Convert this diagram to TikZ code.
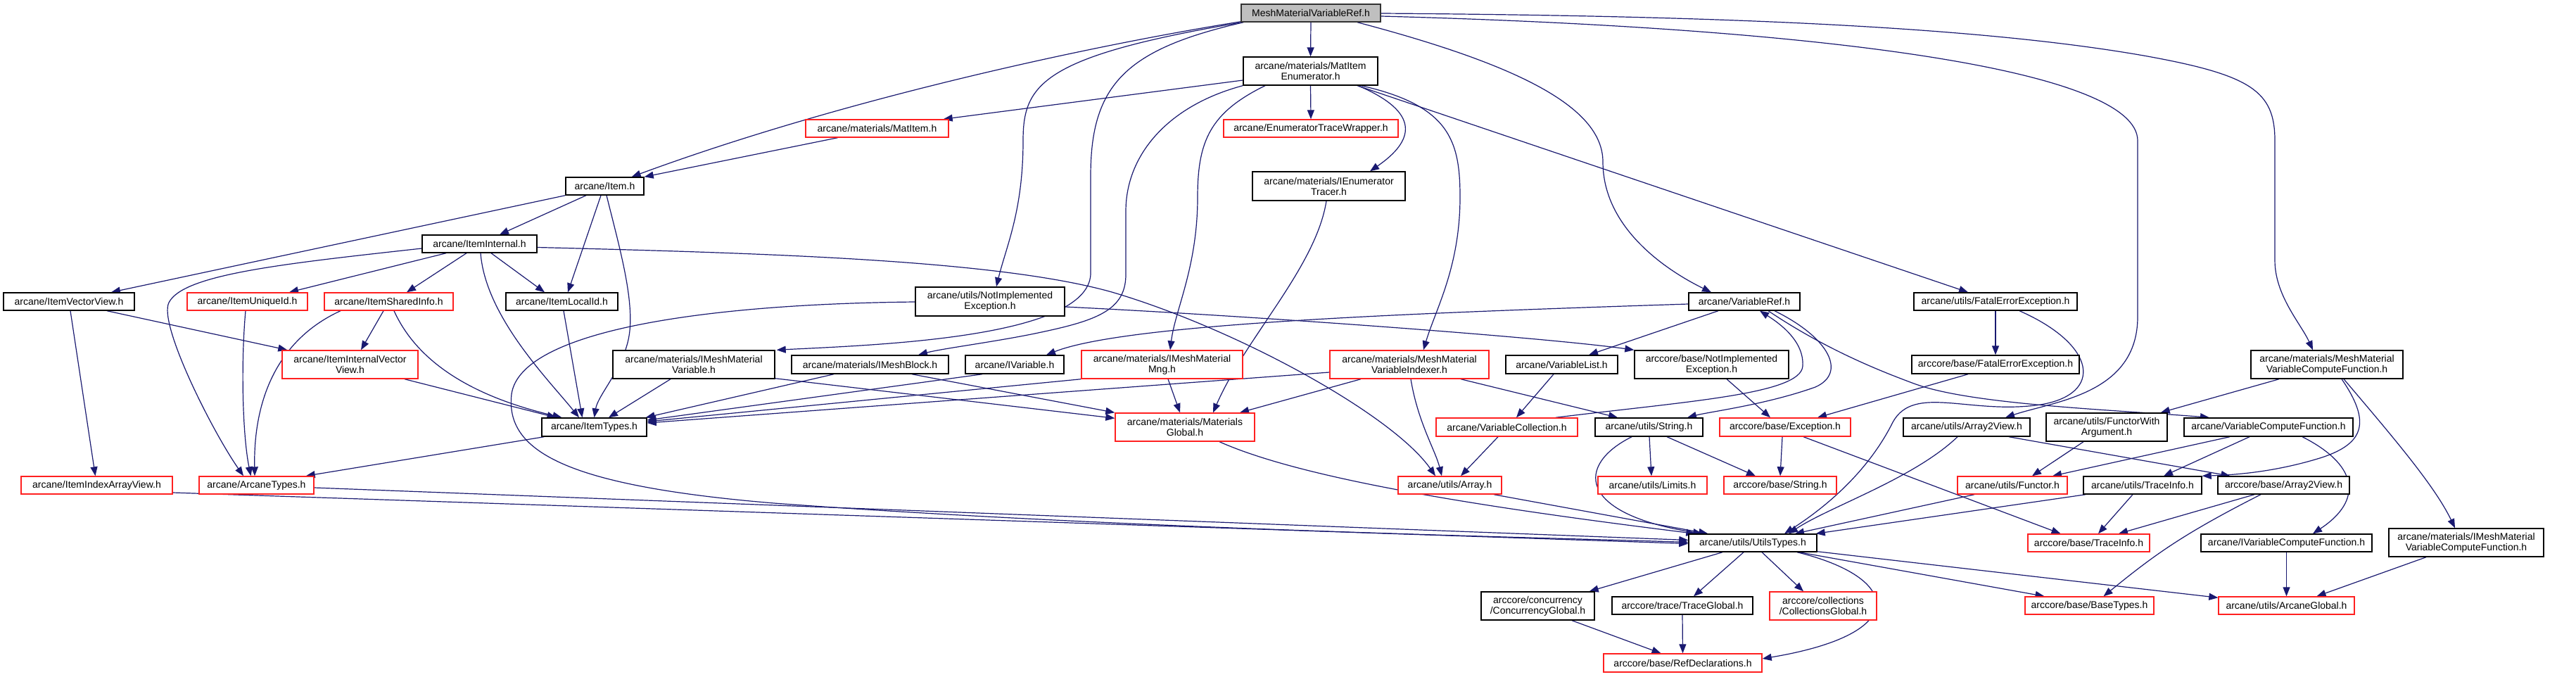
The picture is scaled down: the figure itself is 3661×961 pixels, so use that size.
\documentclass[tikz,border=0pt]{standalone}
\usepackage{fontspec}
\setmainfont{Liberation Sans}
\usetikzlibrary{arrows.meta,calc}
\definecolor{eblue}{HTML}{191970}
\definecolor{nred}{HTML}{FF2020}
\definecolor{rootfill}{HTML}{BFBFBF}
\pgfdeclarelayer{bg}
\pgfsetlayers{bg,main}
\newcommand\Nd[7]{\node[#6, minimum width={#4-#2}, minimum height={#5-#3}] (#1) at ({(#2+#4)/2},{(#3+#5)/2}) {#7};}
\begin{document}
\begin{tikzpicture}[x=1pt,y=-1pt,
  nb/.style={draw=black, line width=1.4pt, fill=white, inner sep=0pt, align=center, font=\fontsize{14}{15}\selectfont},
  rb/.style={nb, draw=nred},
  gb/.style={nb, fill=rootfill, draw=black!80},
  e/.style={draw=eblue, line width=1.2pt, -{Triangle[length=13pt,width=10pt]}}]
\begin{pgfonlayer}{bg}
\path[use as bounding box, fill=white] (0,0) rectangle (3661,961);
\end{pgfonlayer}
% nodes
\Nd{root}{1764}{6}{1962}{31}{gb}{MeshMaterialVariableRef.h}
\Nd{E}{1767}{81}{1958}{121}{nb}{arcane/materials/MatItem\\Enumerator.h}
\Nd{matitem}{1145}{170}{1348}{195}{rb}{arcane/materials/MatItem.h}
\Nd{etw}{1739}{170}{1987}{195}{rb}{arcane/EnumeratorTraceWrapper.h}
\Nd{ienum}{1780}{244}{1997}{285}{nb}{arcane/materials/IEnumerator\\Tracer.h}
\Nd{item}{804}{252}{915}{277}{nb}{arcane/Item.h}
\Nd{iinternal}{600}{334}{763}{359}{nb}{arcane/ItemInternal.h}
\Nd{ivv}{5}{416}{191}{441}{nb}{arcane/ItemVectorView.h}
\Nd{iuid}{266}{416}{437}{441}{rb}{arcane/ItemUniqueId.h}
\Nd{isi}{461}{416}{644}{441}{rb}{arcane/ItemSharedInfo.h}
\Nd{ilid}{719}{416}{878}{441}{nb}{arcane/ItemLocalId.h}
\Nd{iivv}{401}{498}{594}{538}{rb}{arcane/ItemInternalVector\\View.h}
\Nd{itypes}{770}{594}{919}{620}{nb}{arcane/ItemTypes.h}
\Nd{iiav}{30}{677}{245}{702}{rb}{arcane/ItemIndexArrayView.h}
\Nd{atypes}{283}{677}{446}{702}{rb}{arcane/ArcaneTypes.h}
\Nd{unie}{1301}{408}{1513}{449}{nb}{arcane/utils/NotImplemented\\Exception.h}
\Nd{immv}{871}{498}{1101}{538}{nb}{arcane/materials/IMeshMaterial\\Variable.h}
\Nd{imb}{1125}{505}{1348}{531}{nb}{arcane/materials/IMeshBlock.h}
\Nd{ivar}{1372}{505}{1512}{531}{nb}{arcane/IVariable.h}
\Nd{imm}{1537}{498}{1766}{538}{rb}{arcane/materials/IMeshMaterial\\Mng.h}
\Nd{mglob}{1585}{587}{1783}{627}{rb}{arcane/materials/Materials\\Global.h}
\Nd{mmvi}{1890}{498}{2116}{538}{rb}{arcane/materials/MeshMaterial\\VariableIndexer.h}
\Nd{vref}{2400}{416}{2558}{441}{nb}{arcane/VariableRef.h}
\Nd{vlist}{2140}{505}{2299}{531}{nb}{arcane/VariableList.h}
\Nd{cnie}{2323}{498}{2542}{538}{nb}{arccore/base/NotImplemented\\Exception.h}
\Nd{vcoll}{2041}{594}{2242}{620}{rb}{arcane/VariableCollection.h}
\Nd{ustr}{2267}{594}{2420}{620}{nb}{arcane/utils/String.h}
\Nd{cexc}{2444}{594}{2630}{620}{rb}{arccore/base/Exception.h}
\Nd{ufee}{2720}{416}{2952}{441}{nb}{arcane/utils/FatalErrorException.h}
\Nd{cfee}{2717}{505}{2955}{531}{nb}{arccore/base/FatalErrorException.h}
\Nd{mmvcf}{3199}{498}{3415}{538}{nb}{arcane/materials/MeshMaterial\\VariableComputeFunction.h}
\Nd{ua2v}{2705}{594}{2885}{620}{nb}{arcane/utils/Array2View.h}
\Nd{fwa}{2908}{587}{3080}{627}{nb}{arcane/utils/FunctorWith\\Argument.h}
\Nd{vcf}{3104}{594}{3344}{620}{nb}{arcane/VariableComputeFunction.h}
\Nd{uarr}{1987}{677}{2134}{702}{rb}{arcane/utils/Array.h}
\Nd{ulim}{2271}{677}{2426}{702}{rb}{arcane/utils/Limits.h}
\Nd{cstr}{2450}{677}{2610}{702}{rb}{arccore/base/String.h}
\Nd{utypes}{2400}{759}{2582}{784}{nb}{arcane/utils/UtilsTypes.h}
\Nd{conc}{2105}{841}{2266}{881}{nb}{arccore/concurrency\\/ConcurrencyGlobal.h}
\Nd{tglob}{2291}{848}{2491}{873}{nb}{arccore/trace/TraceGlobal.h}
\Nd{cglob}{2515}{841}{2667}{881}{rb}{arccore/collections\\/CollectionsGlobal.h}
\Nd{refd}{2279}{929}{2504}{955}{rb}{arccore/base/RefDeclarations.h}
\Nd{func}{2782}{677}{2938}{702}{rb}{arcane/utils/Functor.h}
\Nd{utinfo}{2961}{677}{3129}{702}{nb}{arcane/utils/TraceInfo.h}
\Nd{ca2v}{3152}{677}{3339}{702}{nb}{arccore/base/Array2View.h}
\Nd{ctinfo}{2882}{759}{3055}{784}{rb}{arccore/base/TraceInfo.h}
\Nd{ivcf}{3128}{759}{3371}{784}{nb}{arcane/IVariableComputeFunction.h}
\Nd{immvcf}{3395}{751}{3615}{791}{nb}{arcane/materials/IMeshMaterial\\VariableComputeFunction.h}
\Nd{btypes}{2878}{848}{3061}{873}{rb}{arccore/base/BaseTypes.h}
\Nd{aglob}{3153}{848}{3346}{873}{rb}{arcane/utils/ArcaneGlobal.h}
\begin{pgfonlayer}{bg}
% root edges
\draw[e] (root.south) -- (E.north);
\draw[e] ($(root.south west)+(0,-1)$) .. controls (1550,65) and (1200,140) .. ($(item.north east)+(-18,0)$);
\draw[e] ($(root.south west)+(2,0)$) .. controls (1480,80) and (1454,120) .. (1454,200) .. controls (1454,300) and (1430,350) .. ($(unie.north)+(9,0)$);
\draw[e] ($(root.south west)+(4,0)$) .. controls (1600,70) and (1550,120) .. (1550,250) -- (1550,390) .. controls (1545,480) and (1250,490) .. ($(immv.north east)+(2,0)$);
\draw[e] ($(root.south)+(66,0)$) .. controls (2150,90) and (2278,150) .. (2278,230) .. controls (2278,330) and (2380,390) .. ($(vref.north)+(-47,0)$);
\draw[e] ($(root.east)+(0,0.5)$) .. controls (2400,22) and (2800,35) .. (3052,80) .. controls (3200,107) and (3233,130) .. (3233,200) -- (3233,370) .. controls (3233,420) and (3270,460) .. ($(mmvcf.north)+(-20,0)$);
\draw[e] ($(root.east)+(0,4.5)$) .. controls (2600,40) and (3038,100) .. (3038,200) -- (3038,450) .. controls (3038,560) and (2920,570) .. ($(ua2v.north)+(55,0)$);
% E edges
\draw[e] ($(E.west)+(0,13)$) -- ($(matitem.north east)+(-8,0)$);
\draw[e] (E.south) -- (etw.north);
\draw[e] ($(E.south)+(67.5,0)$) .. controls (2020,160) and (2010,200) .. ($(ienum.north)+(58.5,0)$);
\draw[e] ($(E.south)+(72,0)$) .. controls (2060,150) and (2075,200) .. (2075,280) .. controls (2075,380) and (2040,440) .. ($(mmvi.north)+(20,0)$);
\draw[e] ($(E.south)+(66.5,0)$) -- ($(ufee.north)+(-39,0)$);
\draw[e] (E.south west) .. controls (1660,150) and (1600,220) .. (1600,300) -- (1600,390) .. controls (1600,440) and (1560,455) .. (1480,472) .. controls (1420,485) and (1340,495) .. ($(imb.north)+(68.5,0)$);
\draw[e] ($(E.south)+(-64.5,0)$) .. controls (1720,160) and (1702,200) .. (1702,280) .. controls (1702,380) and (1670,440) .. ($(imm.north)+(11.5,0)$);
% matitem
\draw[e] ($(matitem.south)+(-56,0)$) -- (item.north east);
% item
\draw[e] (item.south west) -- ($(ivv.north)+(60,0)$);
\draw[e] ($(item.south)+(-26.5,0)$) -- ($(iinternal.north)+(28.5,0)$);
\draw[e] ($(item.south)+(-5.5,0)$) -- ($(ilid.north)+(8.5,0)$);
\draw[e] ($(item.south)+(2.5,0)$) .. controls (880,350) and (900,420) .. (895,470) .. controls (890,520) and (850,560) .. (itypes.north);
% iinternal
\draw[e] ($(iinternal.west)+(0,6.5)$) .. controls (400,375) and (260,390) .. (240,430) .. controls (225,460) and (300,610) .. ($(atypes.north)+(-18.5,0)$);
\draw[e] ($(iinternal.south)+(-47.5,0)$) -- ($(iuid.north)+(59.5,0)$);
\draw[e] ($(iinternal.south)+(-18.5,0)$) -- ($(isi.north)+(25.5,0)$);
\draw[e] ($(iinternal.south)+(1.5,0)$) .. controls (690,450) and (780,540) .. ($(itypes.north)+(-21.5,0)$);
\draw[e] ($(iinternal.south)+(16.5,0)$) -- ($(ilid.north)+(-24.5,0)$);
\draw[e] ($(iinternal.east)+(0,5)$) .. controls (1100,360) and (1420,370) .. (1580,415) .. controls (1760,468) and (1980,590) .. ($(uarr.north)+(-20.5,0)$);
% ivv
\draw[e] ($(ivv.south)+(54,0)$) -- ($(iivv.north west)+(8,0)$);
\draw[e] ($(ivv.south)+(2,0)$) -- ($(iiav.north)+(-2,0)$);
% iuid
\draw[e] ($(iuid.south)+(-2.5,0)$) .. controls (342,520) and (345,620) .. ($(atypes.north)+(-8,0)$);
% isi
\draw[e] ($(isi.south)+(-7.5,0)$) -- ($(iivv.north)+(15.5,0)$);
\draw[e] ($(isi.south)+(-68.5,0)$) .. controls (400,480) and (360,560) .. ($(atypes.north)+(-2.5,0)$);
\draw[e] ($(isi.south)+(7.5,0)$) .. controls (600,530) and (700,570) .. ($(itypes.north)+(-46,0)$);
% ilid, iivv
\draw[e] ($(ilid.south)+(2.5,0)$) -- ($(itypes.north)+(-17,0)$);
\draw[e] ($(iivv.south)+(77.5,0)$) -- ($(itypes.north)+(-54,0)$);
% itypes, atypes, iiav
\draw[e] ($(itypes.south west)+(4,0)$) -- ($(atypes.north east)+(-12,0)$);
\draw[e] ($(atypes.east)+(0,3.5)$) -- ($(utypes.west)+(0,-4)$);
\draw[e] ($(iiav.east)+(0,10.5)$) -- ($(utypes.west)+(0,1)$);
% unie
\draw[e] ($(unie.east)+(0,7.5)$) .. controls (1800,450) and (2200,480) .. (cnie.north west);
\draw[e] ($(unie.west)+(0,0.5)$) .. controls (1000,432) and (740,470) .. (727,560) .. controls (718,640) and (800,690) .. (1100,715) .. controls (1600,752) and (2200,764) .. ($(utypes.west)+(0,-1)$);
% immv, imb, ivar, imm
\draw[e] ($(immv.south)+(-33,0)$) -- ($(itypes.north)+(20.5,0)$);
\draw[e] ($(immv.south east)+(0,-1)$) -- ($(mglob.north west)+(0,8)$);
\draw[e] ($(imb.south)+(-51.5,0)$) -- ($(itypes.north east)+(-2,0)$);
\draw[e] ($(imb.south)+(59.5,0)$) -- (mglob.north west);
\draw[e] ($(ivar.south)+(-46,0)$) -- ($(itypes.east)+(0,-10)$);
\draw[e] (imm.south west) -- ($(itypes.east)+(0,-8)$);
\draw[e] ($(imm.south)+(8.5,0)$) -- ($(mglob.north)+(-7,0)$);
% mmvi
\draw[e] ($(mmvi.west)+(0,11)$) -- ($(itypes.east)+(0,-6)$);
\draw[e] ($(mmvi.south)+(-69,0)$) -- ($(mglob.north)+(78,0)$);
\draw[e] ($(mmvi.south)+(2,0)$) .. controls (2015,600) and (2040,640) .. ($(uarr.north)+(-11.5,0)$);
\draw[e] ($(mmvi.south)+(73,0)$) -- ($(ustr.north)+(-44.5,0)$);
% ienum, mglob
\draw[e] ($(ienum.south)+(-3.5,0)$) .. controls (1870,380) and (1770,480) .. ($(mglob.north)+(40,0)$);
\draw[e] ($(mglob.south)+(49,0)$) .. controls (1850,680) and (2100,720) .. ($(utypes.north west)+(10,0)$);
% vref
\draw[e] ($(vref.west)+(0,3.5)$) .. controls (2000,445) and (1600,460) .. ($(ivar.north)+(45,0)$);
\draw[e] ($(vref.south)+(-37,0)$) -- ($(vlist.north)+(38.5,0)$);
\draw[e] ($(vref.south)+(43,0)$) .. controls (2600,480) and (2625,530) .. (2580,550) .. controls (2510,575) and (2430,585) .. ($(ustr.north)+(54.5,0)$);
\draw[e] ($(vref.south)+(34,0)$) .. controls (2600,500) and (2680,530) .. (2720,545) .. controls (2800,575) and (3000,582) .. ($(vcf.north)+(-84,0)$);
% vcoll, vlist
\draw[e] ($(vcoll.north)+(69.5,0)$) .. controls (2400,570) and (2560,560) .. (2562,520) .. controls (2564,485) and (2530,460) .. ($(vref.south)+(22,0)$);
\draw[e] ($(vlist.south)+(-11.5,0)$) -- ($(vcoll.north)+(13.5,0)$);
\draw[e] ($(vcoll.south)+(-12.5,0)$) -- ($(uarr.north)+(15.5,0)$);
% cnie
\draw[e] ($(cnie.south)+(21.5,0)$) -- ($(cexc.north)+(-21,0)$);
% ustr
\draw[e] ($(ustr.south)+(-24.5,0)$) .. controls (2240,660) and (2240,730) .. ($(utypes.north west)+(20,0)$);
\draw[e] ($(ustr.south)+(0.5,0)$) -- ($(ulim.north)+(-1.5,0)$);
\draw[e] ($(ustr.south)+(25.5,0)$) -- ($(cstr.north)+(-35,0)$);
% cexc
\draw[e] ($(cexc.south)+(-4,0)$) -- (cstr.north);
\draw[e] ($(cexc.south)+(26,0)$) -- ($(ctinfo.north)+(-40,0)$);
% uarr
\draw[e] ($(uarr.south)+(62.5,0)$) -- ($(utypes.north west)+(28,0)$);
% ufee, cfee
\draw[e] (ufee.south) -- (cfee.north);
\draw[e] ($(ufee.south)+(34,0)$) .. controls (2980,490) and (2990,560) .. (2900,575) .. controls (2800,590) and (2720,545) .. (2690,600) .. controls (2650,680) and (2580,730) .. ($(utypes.north)+(45,0)$);
\draw[e] ($(cfee.south)+(-39,0)$) -- ($(cexc.north)+(46,0)$);
% mmvcf
\draw[e] ($(mmvcf.south)+(-68,0)$) -- ($(fwa.north east)+(-10,0)$);
\draw[e] ($(mmvcf.south)+(21,0)$) .. controls (3370,600) and (3360,630) .. (3300,650) .. controls (3230,672) and (3170,675) .. (utinfo.north east);
\draw[e] ($(mmvcf.south)+(24,0)$) .. controls (3400,620) and (3460,690) .. ($(immvcf.north)+(-16,0)$);
% ua2v, fwa, vcf
\draw[e] ($(ua2v.south)+(-13,0)$) .. controls (2720,680) and (2600,720) .. ($(utypes.north)+(51,0)$);
\draw[e] ($(ua2v.south)+(60,0)$) -- ($(ca2v.north)+(-76,0)$);
\draw[e] ($(fwa.south)+(-33,0)$) -- ($(func.north)+(28,0)$);
\draw[e] ($(vcf.south)+(-55,0)$) -- ($(func.north)+(57,0)$);
\draw[e] ($(vcf.south)+(-27,0)$) -- ($(utinfo.north)+(30,0)$);
\draw[e] ($(vcf.south)+(48,0)$) .. controls (3350,660) and (3360,710) .. ($(ivcf.north)+(37.5,0)$);
% func, utinfo, ca2v
\draw[e] ($(func.south)+(-54,0)$) -- ($(utypes.north)+(60,0)$);
\draw[e] ($(utinfo.south)+(-81,0)$) -- ($(utypes.north east)+(-2,0)$);
\draw[e] ($(utinfo.south)+(-14,0)$) -- ($(ctinfo.north)+(13.5,0)$);
\draw[e] ($(ca2v.south)+(-41.5,0)$) -- ($(ctinfo.north)+(42.5,0)$);
\draw[e] ($(ca2v.south)+(-32.5,0)$) .. controls (3100,760) and (3060,790) .. ($(btypes.north)+(20,0)$);
% ivcf, immvcf
\draw[e] (ivcf.south) -- (aglob.north);
\draw[e] ($(immvcf.south)+(-57,0)$) -- ($(aglob.north)+(43,0)$);
% utypes
\draw[e] ($(utypes.south)+(-43,0)$) -- ($(conc.north east)+(-8,0)$);
\draw[e] ($(utypes.south)+(-13,0)$) -- ($(tglob.north)+(16,0)$);
\draw[e] ($(utypes.south)+(13,0)$) -- ($(cglob.north)+(-28,0)$);
\draw[e] ($(utypes.south)+(63,0)$) .. controls (2700,820) and (2720,900) .. ($(refd.east)+(0,-6)$);
\draw[e] ($(utypes.south east)+(0,-1)$) -- ($(aglob.north west)+(0,2)$);
\draw[e] ($(utypes.south)+(66,0)$) -- ($(btypes.north)+(-64,0)$);
% conc, tglob
\draw[e] ($(conc.south)+(48.5,0)$) -- ($(refd.north)+(-31,0)$);
\draw[e] (tglob.south) -- (refd.north);
\end{pgfonlayer}
\end{tikzpicture}
\end{document}
